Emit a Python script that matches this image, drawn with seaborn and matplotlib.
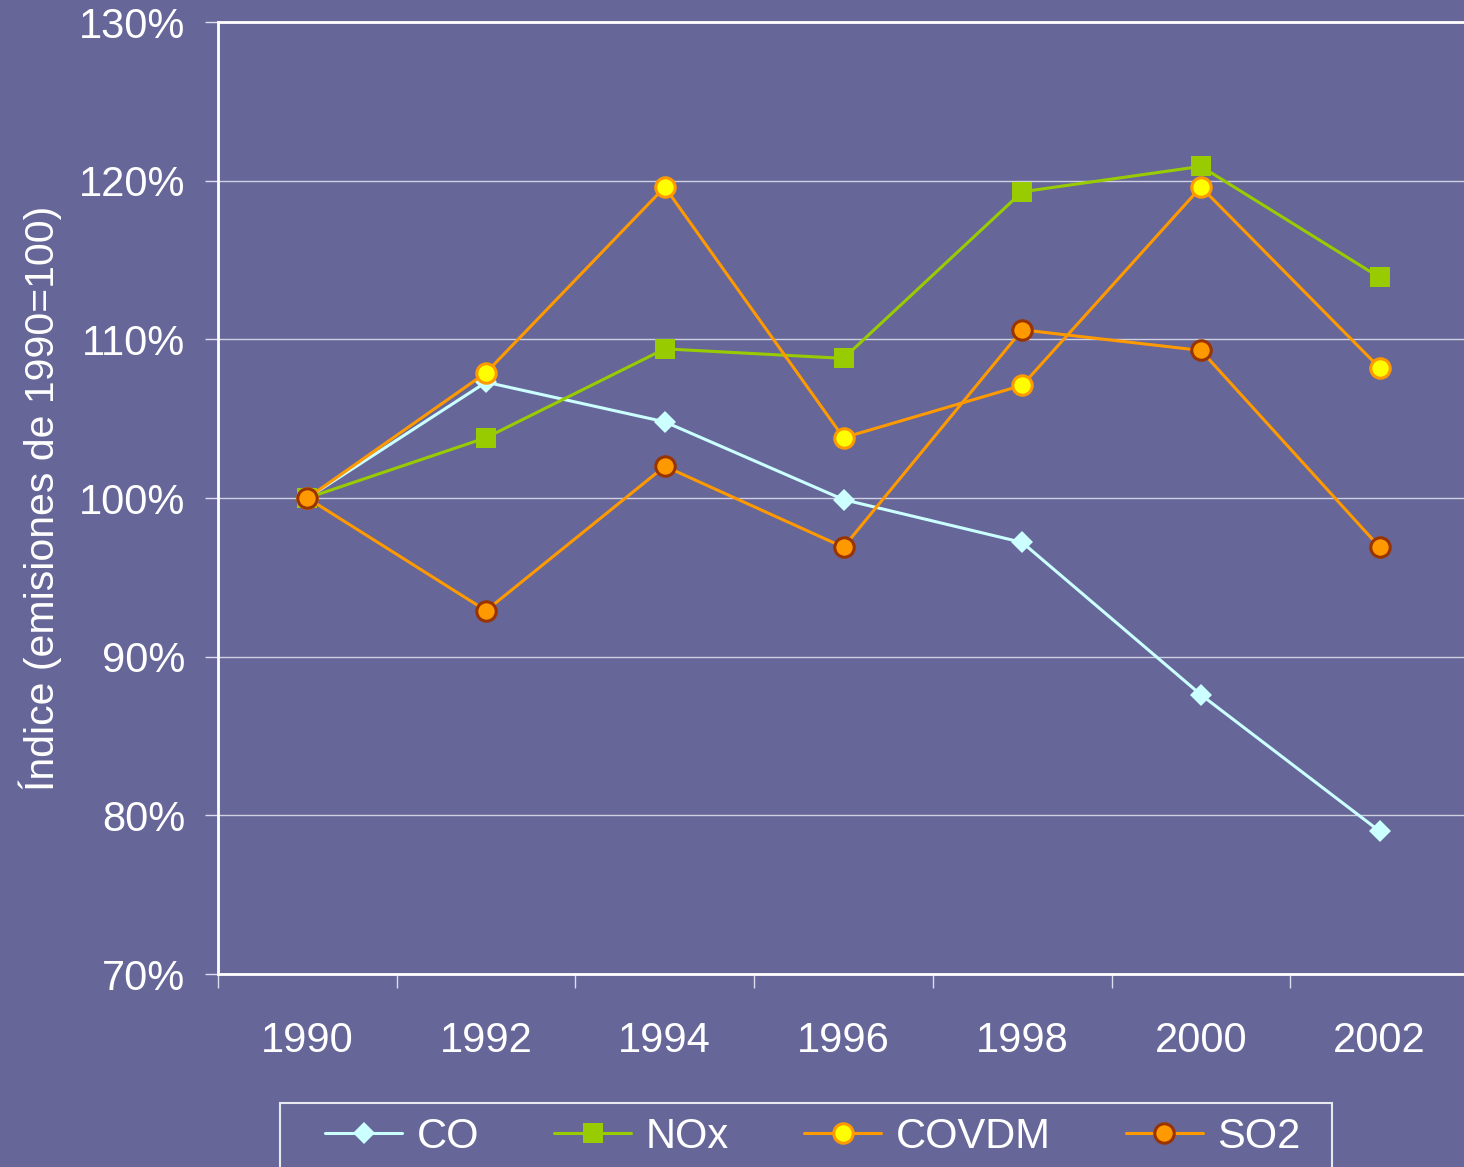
import matplotlib
matplotlib.use("Agg")
import matplotlib.pyplot as plt
import seaborn as sns
import pandas as pd
import numpy as np
from matplotlib.patches import Rectangle
from matplotlib.ticker import FixedLocator, FuncFormatter

years = ["1990", "1992", "1994", "1996", "1998", "2000", "2002"]
co = [100.0, 107.3, 104.8, 99.9, 97.2, 87.6, 79.0]
nox = [100.0, 103.8, 109.4, 108.8, 119.3, 120.9, 113.9]
covdm = [100.0, 107.9, 119.6, 103.8, 107.1, 119.6, 108.2]
so2 = [100.0, 92.9, 102.0, 96.9, 110.6, 109.3, 96.9]
series_names = ["CO", "NOx", "COVDM", "SO2"]
yticks = [70, 80, 90, 100, 110, 120, 130]

BG = "#666699"
sns.set_theme(style="white")
plt.rcParams["font.family"] = ["Liberation Sans", "DejaVu Sans"]

W, H = 1464, 1167
AX_L, AX_R, AX_T, AX_B = 218, 1469, 22, 974
fig = plt.figure(figsize=(W / 100, H / 100), dpi=100, facecolor=BG)
ax = fig.add_axes([AX_L / W, 1 - AX_B / H, (AX_R - AX_L) / W, (AX_B - AX_T) / H])
ax.set_facecolor(BG)

data = {"CO": co, "NOx": nox, "COVDM": covdm, "SO2": so2}
styles = {
    "CO": dict(color="#CCFFFF", marker="D", markersize=11, markerfacecolor="#CCFFFF", markeredgecolor="#CCFFFF", markeredgewidth=0),
    "NOx": dict(color="#99CC00", marker="s", markersize=15, markerfacecolor="#99CC00", markeredgecolor="#99CC00", markeredgewidth=0),
    "COVDM": dict(color="#FF9900", marker="o", markersize=14, markerfacecolor="#FFFF00", markeredgecolor="#FF9900", markeredgewidth=2.2),
    "SO2": dict(color="#FF9900", marker="o", markersize=14, markerfacecolor="#FF9900", markeredgecolor="#993300", markeredgewidth=2.2),
}

x = np.arange(len(years))
for name in series_names:
    df = pd.DataFrame({"x": x, "y": data[name]})
    sns.lineplot(data=df, x="x", y="y", ax=ax, linewidth=2.2, label=name, **styles[name])

ax.set_xlim(-0.5, 6.5)
ax.set_ylim(70, 130)

# y axis
ax.yaxis.set_major_locator(FixedLocator(yticks))
ax.yaxis.set_major_formatter(FuncFormatter(lambda v, p: f"{int(round(v))}%"))
ax.tick_params(axis="y", which="major", direction="out", length=9.5, width=1, color="#ddddee",
               labelsize=30, labelcolor="white", pad=14, left=True)
ax.grid(axis="y", color="#d0d0e0", linewidth=1)
ax.grid(axis="x", visible=False)

# x axis: major ticks at boundaries, labels at centers
ax.xaxis.set_major_locator(FixedLocator(np.arange(-0.5, 7.0, 1.0)))
ax.xaxis.set_major_formatter(FuncFormatter(lambda v, p: ""))
ax.set_xticks(x, labels=years, minor=True)
ax.tick_params(axis="x", which="major", direction="out", length=10, width=1, color="#ddddee", bottom=True)
ax.tick_params(axis="x", which="minor", length=0, labelsize=30, labelcolor="white", pad=34)

for s in ["left", "bottom", "top"]:
    ax.spines[s].set_color("white")
    ax.spines[s].set_linewidth(2)
ax.spines["right"].set_visible(False)

ax.set_xlabel("")
ax.set_ylabel("Índice (emisiones de 1990=100)", fontsize=29.5, color="white")
ax.yaxis.set_label_coords((62 - AX_L) / (AX_R - AX_L), 0.5)

handles, labels = ax.get_legend_handles_labels()
leg = ax.legend(handles, labels, ncol=4, frameon=False, fontsize=30, labelcolor="white",
                loc="center left", bbox_to_anchor=(325 / W, 1 - 1137 / H),
                bbox_transform=fig.transFigure, handlelength=1.85, handletextpad=0.35,
                columnspacing=1.8, borderpad=0, borderaxespad=0)
fig.patches.append(Rectangle((280 / W, -0.01), (1332 - 280) / W, (1167 - 1103) / H + 0.01,
                             transform=fig.transFigure, fill=False, edgecolor="#e8e8f0", linewidth=1.5))

fig.savefig("out.png", dpi=100, facecolor=BG)
